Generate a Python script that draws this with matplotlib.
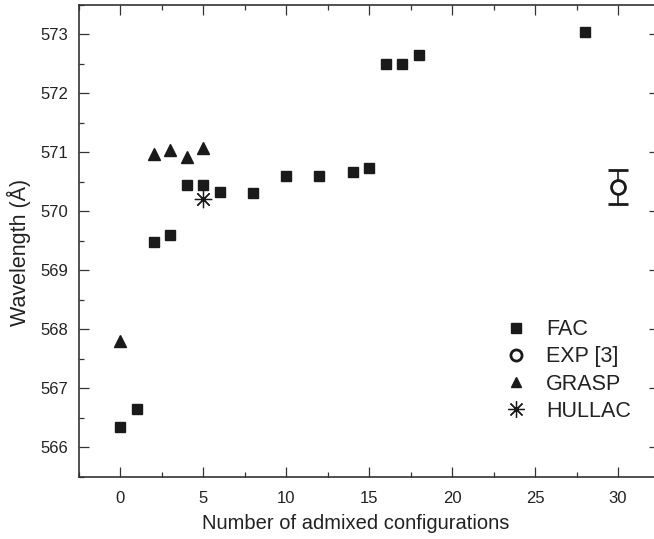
import matplotlib
matplotlib.use("Agg")
import matplotlib.pyplot as plt
from matplotlib.ticker import MultipleLocator
from matplotlib.lines import Line2D

plt.rcParams['font.family'] = ['Liberation Sans', 'DejaVu Sans']

fac_x = [0, 1, 2, 3, 4, 5, 6, 8, 10, 12, 14, 15, 16, 17, 18, 28]
fac_y = [566.35, 566.65, 569.48, 569.6, 570.45, 570.45, 570.33, 570.31,
         570.6, 570.6, 570.66, 570.74, 572.5, 572.5, 572.65, 573.03]
exp_x = [30]
exp_y = [570.41]
exp_err = [0.28]
grasp_x = [0, 2, 3, 4, 5]
grasp_y = [567.8, 570.97, 571.03, 570.92, 571.07]
hullac_x = [5]
hullac_y = [570.2]
legend_labels = ['FAC', 'EXP [3]', 'GRASP', 'HULLAC']

fig = plt.figure(figsize=(6.54, 5.39), dpi=100)
ax = fig.add_axes([0.1208, 0.1156, 0.8876, 0.8757])
k = '#1a1a1a'
star = (8, 2, 0)

ax.plot(fac_x, fac_y, 's', color=k, markersize=7.5, linestyle='none')
ax.errorbar(exp_x, exp_y, yerr=exp_err, fmt='o', color=k, mfc='white', mec=k,
            markersize=10, mew=2, ecolor=k, elinewidth=1.2, capsize=7, capthick=1.2)
ax.plot(grasp_x, grasp_y, '^', color=k, markersize=8.5, linestyle='none')
ax.plot(hullac_x, hullac_y, marker=star, color=k, markersize=12.5, mew=0.9,
        linestyle='none')

ax.set_xlim(-2.5, 32.5)
ax.set_ylim(565.5, 573.5)
ax.xaxis.set_major_locator(MultipleLocator(5))
ax.xaxis.set_minor_locator(MultipleLocator(2.5))
ax.yaxis.set_major_locator(MultipleLocator(1))
ax.yaxis.set_minor_locator(MultipleLocator(0.5))
ax.tick_params(which='both', direction='in', top=True, right=True, colors='#333333',
               labelcolor='#222222', labelsize=12)
ax.tick_params(which='major', length=7, width=0.9)
ax.tick_params(which='minor', length=3.8, width=0.9)
ax.tick_params(axis='y', which='major', pad=8)
ax.tick_params(axis='x', which='major', pad=10)
for s in ax.spines.values():
    s.set_linewidth(1.2)
    s.set_color('#333333')

ax.set_xlabel('Number of admixed configurations', fontsize=14.5, color='#222222')
ax.xaxis.set_label_coords(0.477, -0.078)
ax.set_ylabel('Wavelength (Å)', fontsize=15.5, color='#222222')
ax.yaxis.set_label_coords(-0.082, 0.475)

handles = [
    Line2D([], [], marker='s', color=k, linestyle='none', markersize=6.5),
    Line2D([], [], marker='o', color=k, mfc='white', mec=k, mew=2, linestyle='none', markersize=8),
    Line2D([], [], marker='^', color=k, linestyle='none', markersize=7.5),
    Line2D([], [], marker=star, color=k, mew=0.9, linestyle='none', markersize=12),
]
leg = ax.legend(handles, legend_labels, loc='upper left', bbox_to_anchor=(0.734, 0.334),
                frameon=False, fontsize=15.5, handlelength=1.0, handletextpad=0.9,
                labelspacing=0.29, borderpad=0, borderaxespad=0, numpoints=1)
for t in leg.get_texts():
    t.set_color('#222222')

fig.savefig('out.png', dpi=100)
